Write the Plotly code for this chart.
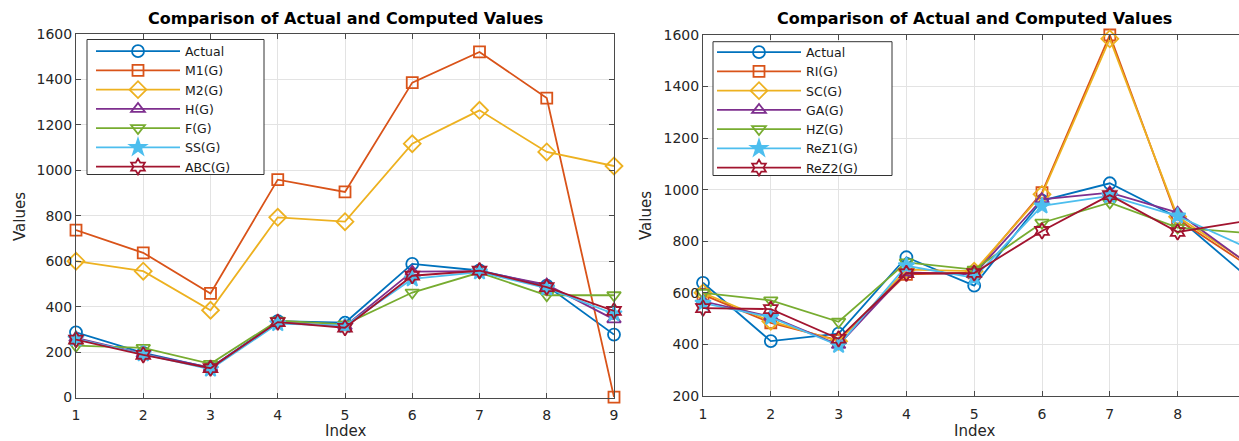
import plotly.graph_objects as go

W, H = 1239, 441

# ---- data -------------------------------------------------------------
index = [1, 2, 3, 4, 5, 6, 7, 8, 9]

# left panel
left_names = ["Actual", "M1(G)", "M2(G)", "H(G)", "F(G)", "SS(G)", "ABC(G)"]
left_actual = [287, 196, 130, 336, 329, 588, 559, 492, 277]
left_m1 = [737, 637, 458, 959, 905, 1386, 1521, 1318, 2]
left_m2 = [600, 556, 384, 793, 774, 1117, 1264, 1081, 1019]
left_h = [262, 192, 132, 330, 314, 554, 556, 497, 344]
left_f = [228, 218, 148, 338, 322, 462, 550, 450, 450]
left_ss = [258, 192, 124, 325, 316, 522, 552, 482, 368]
left_abc = [255, 188, 129, 332, 307, 536, 558, 486, 381]

# right panel
right_names = ["Actual", "RI(G)", "SC(G)", "GA(G)", "HZ(G)", "ReZ1(G)", "ReZ2(G)"]
right_actual = [639, 413, 442, 738, 628, 958, 1025, 892, 668]
right_ri = [593, 484, 416, 672, 678, 989, 1600, 885, 712]
right_sc = [600, 490, 412, 690, 684, 982, 1585, 895, 722]
right_ga = [567, 508, 398, 679, 672, 963, 989, 911, 720]
right_hz = [600, 571, 488, 718, 690, 872, 950, 853, 833]
right_rez1 = [560, 505, 396, 705, 658, 937, 976, 898, 778]
right_rez2 = [541, 537, 422, 676, 677, 840, 979, 836, 878]

left_yticks = [0, 200, 400, 600, 800, 1000, 1200, 1400, 1600]
right_yticks = [200, 400, 600, 800, 1000, 1200, 1400, 1600]
title_text = "Comparison of Actual and Computed Values"

# ---- styling ----------------------------------------------------------
colors = ["#0072BD", "#D95319", "#EDB120", "#7E2F8E", "#77AC30", "#4DBEEE", "#A2142F"]
symbols = ["circle-open", "square-open", "diamond-open", "triangle-up-open",
           "triangle-down-open", "star", "hexagram-open"]
sizes = [12, 11, 13, 12, 12, 12, 12]
FONT = "DejaVu Sans, Arial, sans-serif"
AXIS_COLOR = "#4a4a4a"
GRID_COLOR = "#e3e3e3"
TEXT_COLOR = "#262626"


def px_x(p):
    return p / W


def px_y(p):
    return 1 - p / H


fig = go.Figure()

left_series = [left_actual, left_m1, left_m2, left_h, left_f, left_ss, left_abc]
right_series = [right_actual, right_ri, right_sc, right_ga, right_hz, right_rez1, right_rez2]


def add_panel(names, series, xa, ya, legend_id):
    for i, (name, ys) in enumerate(zip(names, series)):
        fig.add_trace(go.Scatter(
            x=index, y=ys, name=name, mode="lines+markers",
            xaxis=xa, yaxis=ya, legend=legend_id, cliponaxis=False,
            line=dict(color=colors[i], width=1.8),
            marker=dict(symbol=symbols[i], size=sizes[i], color=colors[i],
                        line=dict(color=colors[i], width=1.8)),
        ))


add_panel(left_names, left_series, "x", "y", "legend")
add_panel(right_names, right_series, "x2", "y2", "legend2")

axis_common = dict(
    showline=True, linecolor=AXIS_COLOR, linewidth=1,
    ticks="inside", ticklen=5, tickcolor=AXIS_COLOR,
    showgrid=True, gridcolor=GRID_COLOR, gridwidth=1,
    zeroline=False,
    tickfont=dict(family=FONT, size=14, color=TEXT_COLOR),
)

# left panel axes: x 1..9 spans 76..614 px, y 0..1600 spans 397.5..34 px
fig.update_layout(
    xaxis=dict(domain=[px_x(76), px_x(614)], range=[1, 9], tickvals=index,
               mirror="ticks", anchor="y", ticklabelstandoff=5, **axis_common),
    yaxis=dict(domain=[px_y(397.5), px_y(34)], range=[0, 1600], tickvals=left_yticks,
               mirror="ticks", anchor="x", **axis_common),
)

# right panel axes: x=1 at 703 px, 67.8 px per step, runs off the right edge
x_step_right = 67.8
right_end = 1 + (W - 703) / x_step_right
fig.update_layout(
    xaxis2=dict(domain=[px_x(703), 1.0], range=[1, right_end], tickvals=index,
                mirror="ticks", anchor="y2", ticklabelstandoff=5, **axis_common),
    yaxis2=dict(domain=[px_y(396), px_y(35)], range=[200, 1600], tickvals=right_yticks,
                mirror=False, anchor="x2", **axis_common),
)

# legend frames are drawn as shapes so their size is fixed
legend_common = dict(
    bgcolor="rgba(0,0,0,0)", borderwidth=0,
    font=dict(family=FONT, size=12.5, color="#1a1a1a"),
    itemwidth=84, xanchor="left", yanchor="top",
    tracegroupgap=0, itemclick=False,
)
fig.update_layout(
    legend=dict(x=px_x(91), y=px_y(36.5), **legend_common),
    legend2=dict(x=px_x(712), y=px_y(37.5), **legend_common),
)

shapes = [
    dict(type="rect", xref="paper", yref="paper", layer="above",
         x0=px_x(87), x1=px_x(264), y0=px_y(174.5), y1=px_y(39.5),
         line=dict(color="#333333", width=1), fillcolor="white"),
    dict(type="rect", xref="paper", yref="paper", layer="above",
         x0=px_x(713), x1=px_x(892), y0=px_y(175.5), y1=px_y(41.7),
         line=dict(color="#333333", width=1), fillcolor="white"),
]


def label(text, x, y, size, angle=0, bold=False):
    return dict(text=("<b>%s</b>" % text) if bold else text,
                x=px_x(x), y=px_y(y), xref="paper", yref="paper",
                xanchor="center", yanchor="middle", showarrow=False,
                textangle=angle,
                font=dict(family=FONT, size=size, color="#000000" if bold else TEXT_COLOR))


annotations = [
    label(title_text, 345, 18, 16, bold=True),
    label(title_text, 974, 18, 16, bold=True),
    label("Values", 20, 216, 15, angle=-90),
    label("Values", 646, 216, 15, angle=-90),
    label("Index", 345, 431, 15),
    label("Index", 974, 431, 15),
]

fig.update_layout(
    width=W, height=H, autosize=False,
    margin=dict(l=0, r=0, t=0, b=0, autoexpand=False),
    paper_bgcolor="white", plot_bgcolor="white",
    showlegend=True,
    annotations=annotations,
    shapes=shapes,
)

fig.write_html("out.html")
